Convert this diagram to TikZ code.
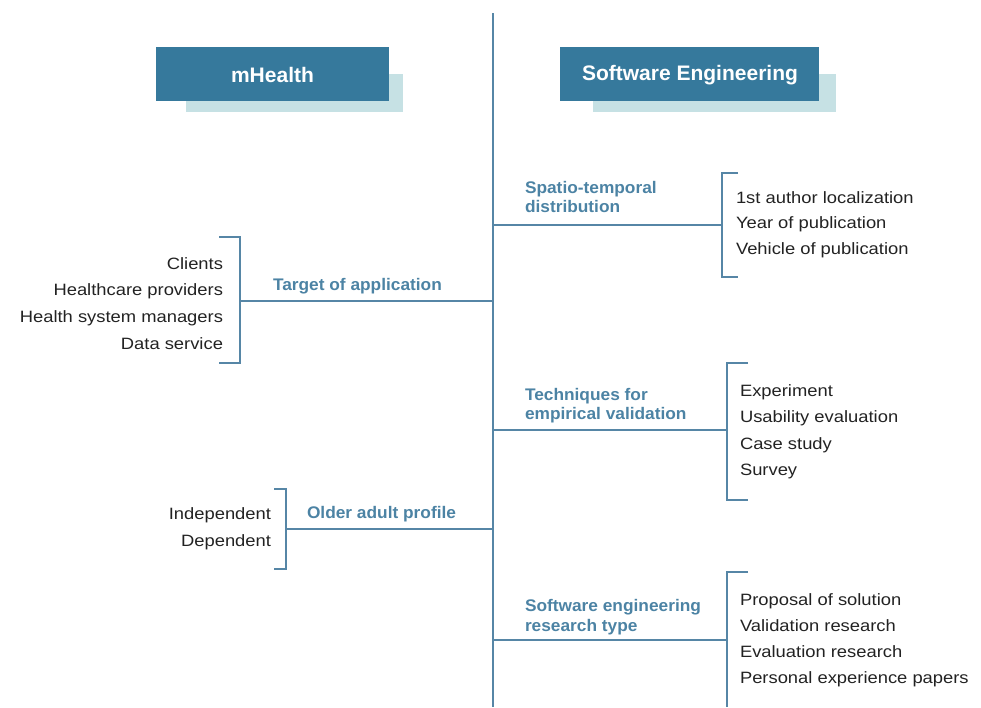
\documentclass[tikz,border=0pt]{standalone}
\usepackage{fontspec}
\setmainfont[FakeStretch=1.12]{Liberation Sans}
\newfontfamily\headfont{Liberation Sans}
\newfontfamily\catfont[FakeStretch=1.03]{Liberation Sans}
\begin{document}
\begin{tikzpicture}[x=1pt,y=-1pt,
  every node/.style={inner sep=0pt,outer sep=0pt},
  headbox/.style={fill=headblue,draw=none},
  shadowbox/.style={fill=shadowcyan,draw=none},
  headtext/.style={text=white,font=\headfont\fontsize{21}{24}\selectfont\bfseries},
  branch/.style={draw=lineblue,line width=1.5pt},
  brack/.style={draw=lineblue,line width=1.5pt},
  cat/.style={text=labelblue,font=\catfont\fontsize{16.8}{19.5}\selectfont\bfseries,align=left},
  itemr/.style={text=itemgray,font=\fontsize{16.4}{19}\selectfont,anchor=mid east,yshift=-3pt},
  iteml/.style={text=itemgray,font=\fontsize{16.4}{19}\selectfont,anchor=mid west,yshift=-3pt}]
\definecolor{headblue}{HTML}{36799C}
\definecolor{shadowcyan}{HTML}{C6E1E4}
\definecolor{lineblue}{HTML}{5686A6}
\definecolor{labelblue}{HTML}{4C83A4}
\definecolor{itemgray}{HTML}{222222}
\useasboundingbox (0,0) rectangle (981,707);

% header cards
\fill[shadowbox] (186,74) rectangle (403,112);
\fill[headbox] (156,47) rectangle (389,101);
\node[headtext] (mh) at (272.5,75) {mHealth};
\fill[shadowbox] (593,74) rectangle (836,112);
\fill[headbox] (560,47) rectangle (819,101);
\node[headtext] (se) at (690,75) {Software Engineering};

% central trunk
\coordinate (top) at (493,13);
\coordinate (bot) at (493,707);
\draw[branch] (top) -- (bot);

% --- left: target of application
\coordinate (ta) at (493,301);
\coordinate (tab) at (240,301);
\draw[branch] (ta) -- (tab);
\draw[brack] (219,237) -- (240,237) -- (240,363) -- (219,363);
\node[cat,anchor=mid west] (tal) at (273,288) {Target of application};
\node[itemr] (c1) at (223,263.5) {Clients};
\node[itemr] (c2) at (223,290) {Healthcare providers};
\node[itemr] (c3) at (223,317) {Health system managers};
\node[itemr] (c4) at (223,344) {Data service};

% --- left: older adult profile
\coordinate (oa) at (493,529);
\coordinate (oab) at (286,529);
\draw[branch] (oa) -- (oab);
\draw[brack] (274,489) -- (286,489) -- (286,569) -- (274,569);
\node[cat,anchor=mid west] (oal) at (307,516) {Older adult profile};
\node[itemr] (o1) at (271,514) {Independent};
\node[itemr] (o2) at (271,541) {Dependent};

% --- right: spatio-temporal distribution
\coordinate (st) at (493,225);
\coordinate (stb) at (722,225);
\draw[branch] (st) -- (stb);
\draw[brack] (738,173) -- (722,173) -- (722,277) -- (738,277);
\node[cat,anchor=west] (stl) at (525,197) {Spatio-temporal\\distribution};
\node[iteml] (s1) at (736,198) {1st author localization};
\node[iteml] (s2) at (736,223) {Year of publication};
\node[iteml] (s3) at (736,248.5) {Vehicle of publication};

% --- right: techniques for empirical validation
\coordinate (tv) at (493,430);
\coordinate (tvb) at (727,430);
\draw[branch] (tv) -- (tvb);
\draw[brack] (748,363) -- (727,363) -- (727,500) -- (748,500);
\node[cat,anchor=west] (tvl) at (525,405.5) {Techniques for\\empirical validation};
\node[iteml] (t1) at (740,391) {Experiment};
\node[iteml] (t2) at (740,417) {Usability evaluation};
\node[iteml] (t3) at (740,443.5) {Case study};
\node[iteml] (t4) at (740,470) {Survey};

% --- right: software engineering research type
\coordinate (rt) at (493,640);
\coordinate (rtb) at (727,640);
\draw[branch] (rt) -- (rtb);
\draw[brack] (748,572) -- (727,572) -- (727,707);
\node[cat,anchor=west] (rtl) at (525,617) {Software engineering\\research type};
\node[iteml] (r1) at (740,600) {Proposal of solution};
\node[iteml] (r2) at (740,626) {Validation research};
\node[iteml] (r3) at (740,652) {Evaluation research};
\node[iteml] (r4) at (740,678) {Personal experience papers};
\end{tikzpicture}
\end{document}
